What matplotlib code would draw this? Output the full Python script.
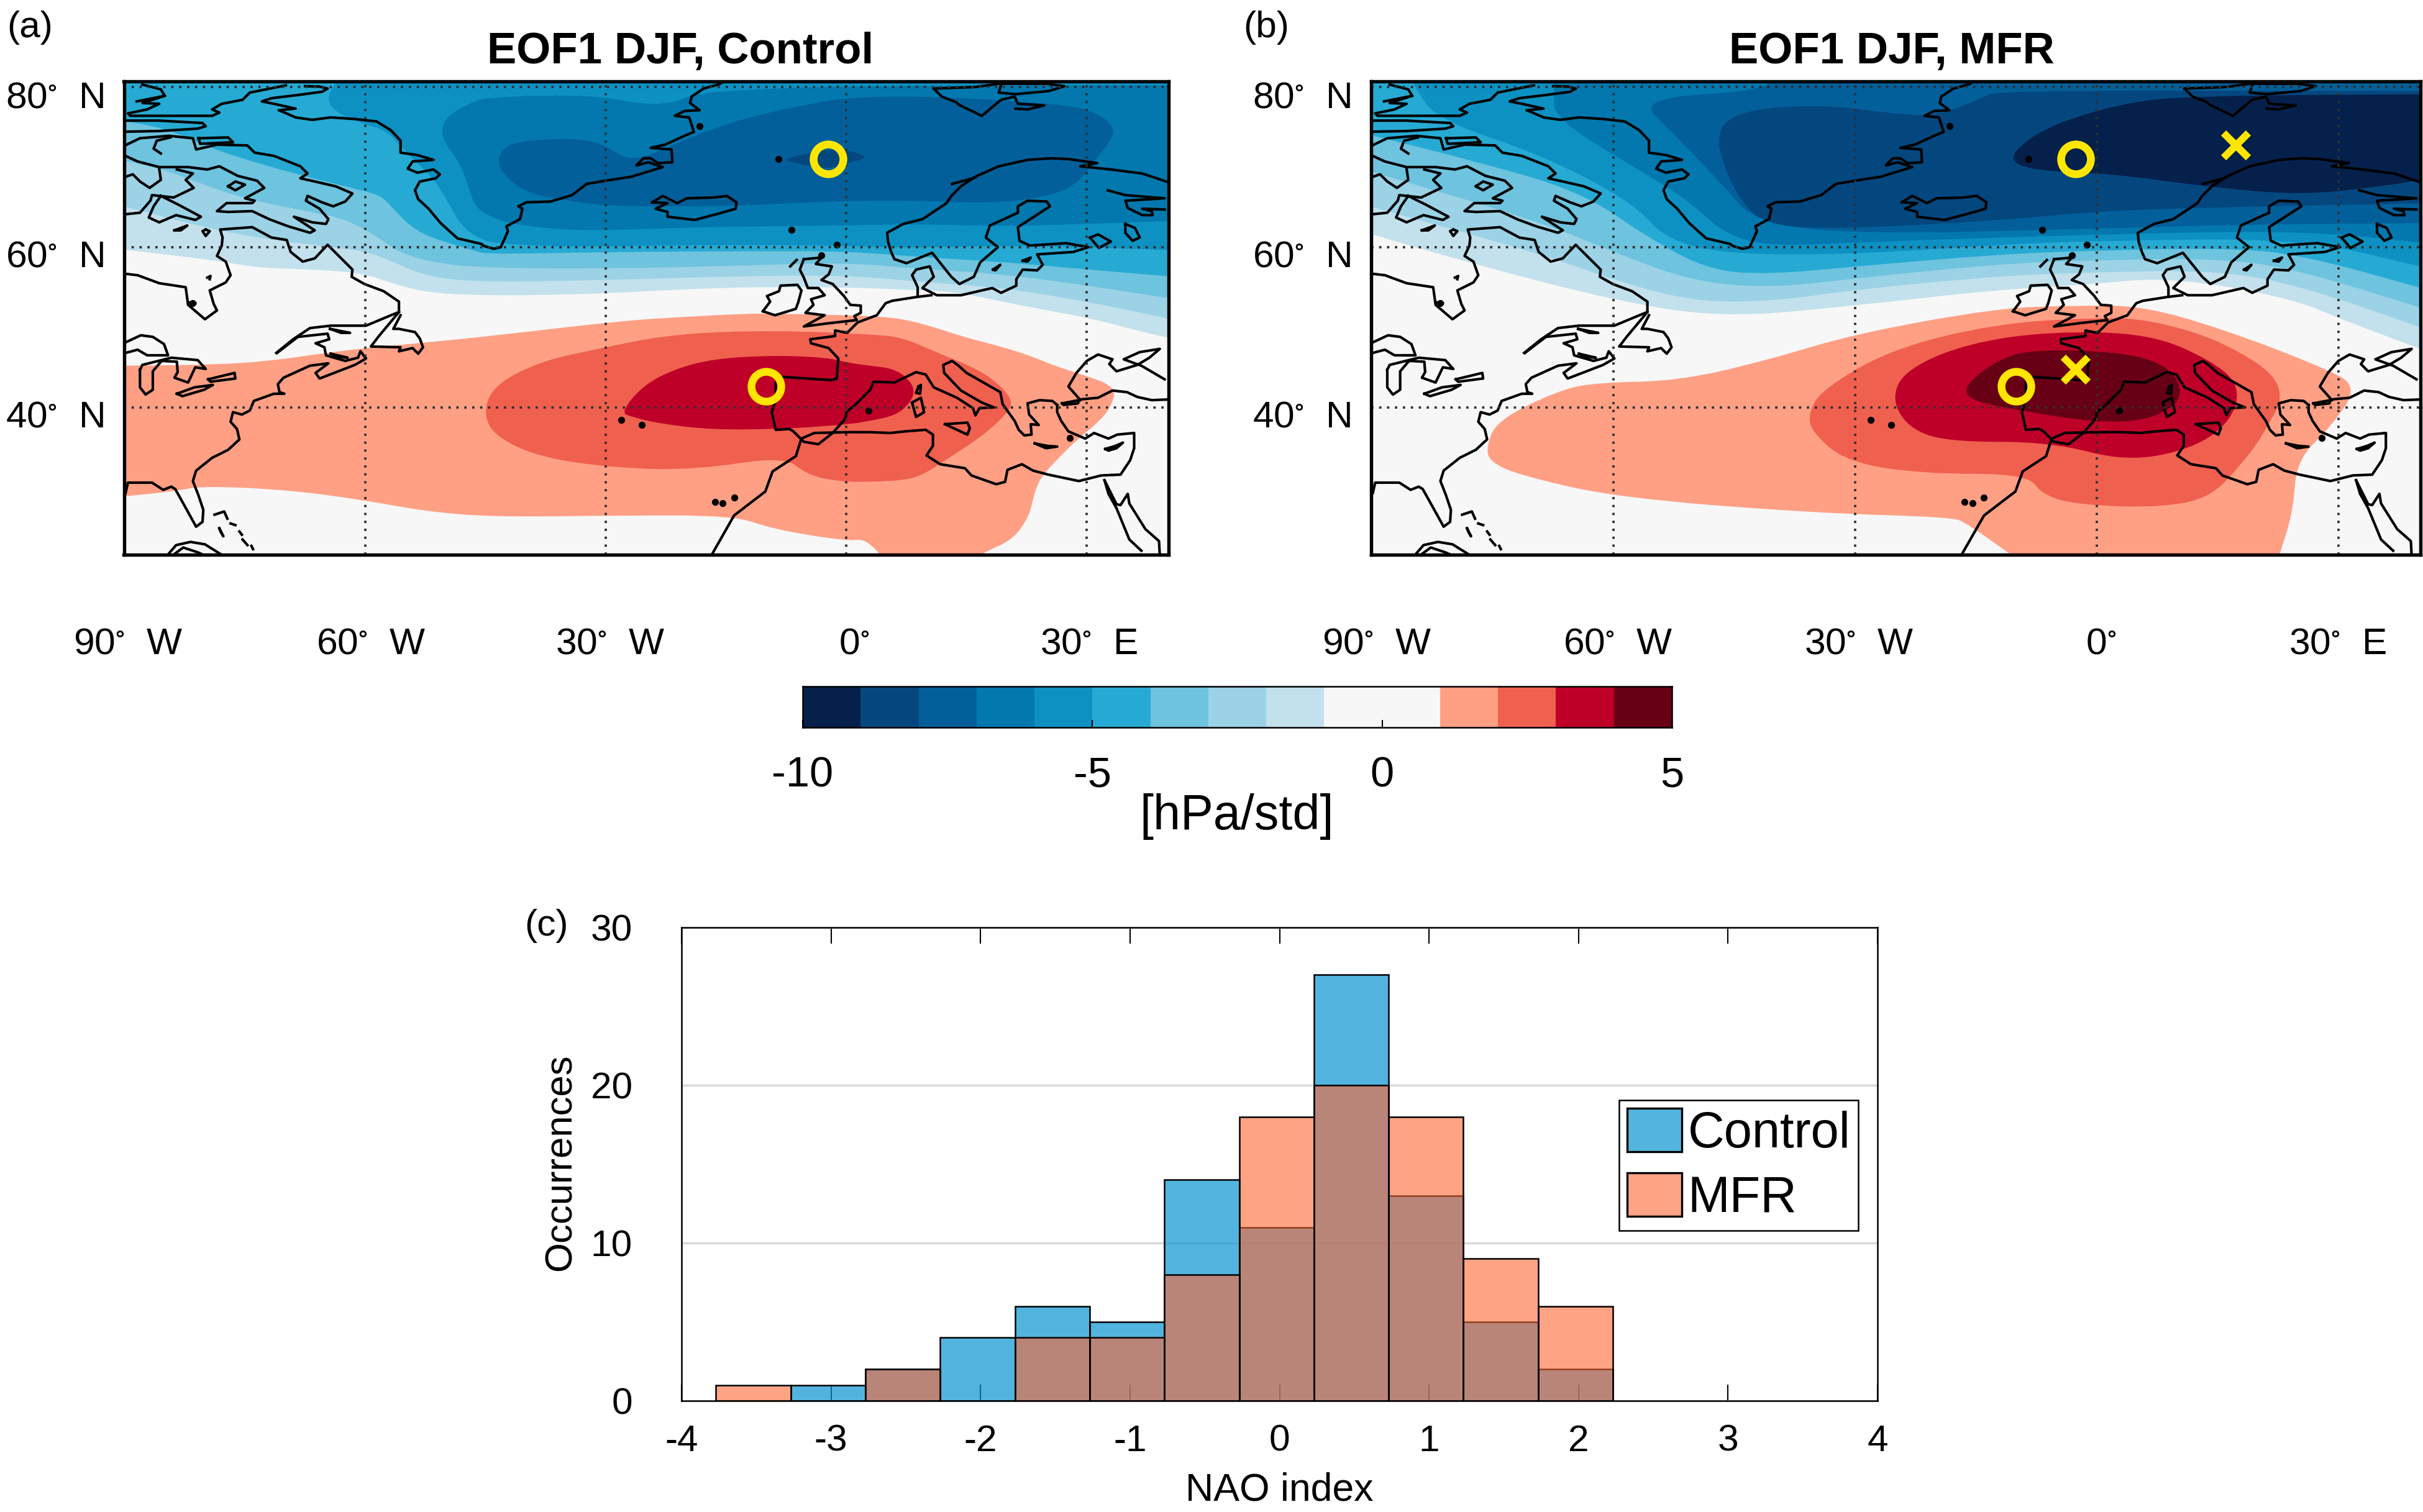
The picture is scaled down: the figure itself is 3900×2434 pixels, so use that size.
import matplotlib
matplotlib.use('Agg')
import matplotlib.pyplot as plt
from matplotlib.path import Path
from matplotlib.patches import PathPatch, Patch

plt.rcParams['font.family'] = ['Liberation Sans', 'DejaVu Sans']
plt.rcParams['mathtext.default'] = 'regular'
plt.rcParams['axes.unicode_minus'] = False

# colour bar
cbar_edges = [-10, -9, -8, -7, -6, -5, -4, -3, -2, -1, 1, 2, 3, 4, 5]
cbar_colors = ['#05204b', '#04477f', '#035f9a', '#0278ae', '#0d91c3', '#26aad4', '#6ec3de',
               '#9bd2e6', '#c3e1ec', '#f7f7f7', '#ffa085', '#f0604f', '#be0028', '#670014']
cbar_ticks = [-10, -5, 0, 5]

# histogram
nao_left = [-3.77, -3.27, -2.77, -2.27, -1.77, -1.27, -0.77, -0.27, 0.23, 0.73, 1.23, 1.73]
control_counts = [0, 1, 2, 4, 6, 5, 14, 11, 27, 13, 5, 2]
mfr_counts = [1, 0, 2, 0, 4, 4, 8, 18, 20, 18, 9, 6]

# map lines and labels
lon_ticks = [-90, -60, -30, 0, 30]
lat_ticks = [40, 60, 80]

# markers (lon, lat)
circles_a = [(-2.3, 71), (-10, 42.6)]
circles_b = [(-2.6, 71), (-10, 42.6)]
crosses_b = [(17.3, 72.7), (-2.6, 44.7)]

# contour fronts, panel a, hPa/std
a_m1 = [(-91, 59.8), (-85, 59.1), (-78.5, 58.3), (-73.2, 57.4), (-65.7, 57.2), (-60, 56.7), (-55.3, 55), (-50.9, 54.2),
        (-45.2, 54), (-39.3, 54), (-30.3, 54.2), (-21.4, 54.7), (-12.5, 55), (-9.5, 55), (0, 55), (7.1, 54.7),
        (13.1, 54.5), (19, 53.3), (25, 52.1), (30.2, 51.2), (36.6, 49.5), (41, 48.5)]
a_m2 = [(-91, 65.3), (-87.1, 64.3), (-80.6, 62.6), (-73.2, 61.1), (-64.3, 60), (-60, 59.5), (-56.8, 58.3), (-52.4, 56.3),
        (-45.2, 55.6), (-30, 55.9), (-12.5, 56.4), (0, 56.5), (10.1, 55.6), (19, 55), (30.2, 53.2), (41, 50.9)]
a_m3 = [(-91, 71), (-85.1, 69.7), (-81.2, 68.2), (-75.3, 66.1), (-66.3, 64.3), (-62.5, 63.5), (-58.6, 61.4), (-55.9, 59.4),
        (-51.8, 58.1), (-45.2, 57.4), (-30, 57.3), (-12.5, 57.7), (0, 58.1), (10.1, 57.2), (19, 56.7), (30.2, 55.2), (41, 53.5)]
a_m4 = [(-91, 75.9), (-85.1, 74.9), (-79.7, 72.6), (-76.2, 71.3), (-67.8, 68.9), (-60.4, 67.1), (-58, 66.4), (-56.8, 65.1),
        (-53.8, 62), (-49.4, 60.4), (-46.4, 59.6), (-45, 59.1), (-30, 59.4), (-12.5, 59.5), (0, 59.5), (10.1, 58.7),
        (19, 58.2), (30.2, 57.2), (41, 56.3)]
a_m5 = [(-63.5, 80.8), (-64.9, 78.6), (-63.7, 76.8), (-60, 75.3), (-57.4, 74.6), (-55.3, 72.3), (-52.7, 69.7), (-51.2, 68.2),
        (-49.4, 65.1), (-47.9, 62.5), (-45.5, 60.9), (-43.1, 60.4), (-36.3, 60.1), (-30, 60.1), (-15.5, 60.3), (0, 60.2),
        (7.1, 59.9), (19, 60.2), (30.2, 60), (41, 59.6)]
a_m6 = [(-50.6, 74.9), (-49.4, 76.7), (-46.4, 78.2), (-45.2, 78.6), (-37.8, 79), (-30.3, 78.8), (-25.9, 77.9), (-22, 77.9),
        (-18.4, 79.3), (-9.5, 79.8), (0, 80.1), (28, 80.2), (41, 80.2), (41, 63.3), (30.2, 62.9), (19, 62.6), (9.5, 62.9),
        (0, 62.7), (-12.5, 62.6), (-21.4, 62.4), (-30, 62.1), (-36.3, 62.2), (-42.2, 63), (-44.4, 63.8), (-46.4, 65.1),
        (-47.3, 68.2), (-48.5, 71), (-50, 72.8)]
a_m7 = [(-42.4, 72.9), (-37.8, 73.5), (-32.7, 73.5), (-30, 72.7), (-27.4, 70.9), (-24.4, 71.5), (-19.9, 73.6), (-12.5, 76.2),
        (-3.6, 78.1), (0, 78.6), (7.1, 78.9), (19, 78.4), (28, 77.7), (31.5, 76.7), (33.5, 74.9), (33, 73.3), (31, 70.8),
        (29.5, 68.7), (27.1, 66.9), (22, 65.8), (16.1, 65.5), (10, 65.8), (0, 65.8), (-6.5, 65.5), (-15.5, 65.1), (-24.4, 65.1),
        (-30.3, 65.2), (-34.8, 65.8), (-39.3, 66.6), (-42.2, 68.4), (-43.7, 70.7)]
a_m8 = [(-8, 71), (-2.4, 72.2), (0, 72.2), (3, 71.2), (0, 70.5), (-2.4, 69.7), (-6.5, 70.5)]
a_p1 = [(-91, 45.2), (-79.1, 45.3), (-71.7, 45.8), (-65.7, 46.7), (-60, 47.4), (-52.4, 48.1), (-44.4, 48.9), (-28.1, 50.8),
        (-20.3, 51.3), (-12.6, 51.7), (-8.7, 51.7), (0, 51.5), (2.9, 51.4), (6.8, 51.1), (10.7, 50.1), (14.6, 48.8),
        (18.5, 47.8), (22.3, 46.7), (26.2, 45.1), (28.8, 44.3), (33.7, 42.6), (33, 40), (31.4, 38.1), (28.8, 36), (26.2, 33.4),
        (24.1, 31.1), (23.3, 28.7), (22.8, 26.4), (20.8, 23.5), (17.4, 22), (15.8, 21), (4.8, 21), (2.4, 23.6), (0, 23.3),
        (-9.2, 24.8), (-14, 26.5), (-28.4, 26.5), (-43.9, 26.3), (-52.4, 27), (-60, 28.4), (-69.6, 29.7), (-80.3, 30.2),
        (-83.9, 29.5), (-91, 28.8)]
a_p2 = [(-28.1, 47.9), (-22.9, 48.9), (-15.2, 49.5), (-4.8, 49.5), (0.4, 49.2), (2.9, 49.1), (6.8, 48.8), (10.7, 47.1),
        (16.6, 44.7), (19.5, 42.5), (20.8, 40.6), (20, 39.2), (17.1, 36.5), (12.2, 33.3), (9.6, 31.6), (7.3, 30.9), (2.9, 30.7),
        (-0.5, 30.7), (-4.8, 31.5), (-7.7, 33.9), (-18.8, 32.2), (-28.4, 32.4), (-38.1, 33.7), (-43.9, 36.4), (-45.3, 39.4),
        (-43.9, 42.8), (-38.1, 45.8), (-30, 47.5)]
a_p3 = [(-28.1, 39.4), (-25.5, 42.6), (-21.7, 44.7), (-16.5, 46.1), (-8.7, 46.5), (-2.2, 46.2), (0, 45.6), (2.9, 45.2),
        (5.5, 44.9), (7.3, 44), (8.6, 42.3), (8, 40.6), (6.2, 39), (2.9, 38.3), (0.4, 37.9), (-4.8, 37.5), (-8.7, 37.3),
        (-16.5, 37.2), (-22.9, 37.9), (-26.8, 38.8)]

# contour fronts, panel b
b_m1 = [(-91, 61.9), (-78.2, 58.1), (-59.4, 53.2), (-46.2, 51.2), (-30, 52.7), (-12.3, 54.7), (0, 55.4), (6.5, 56.1),
        (15, 55.4), (25.3, 53.2), (29.8, 51.2), (41, 47)]
b_m2 = [(-91, 65.3), (-68.8, 59.1), (-59.4, 55.7), (-50, 53.2), (-40.5, 53.2), (-30, 54.7), (-12.3, 56.4), (0, 56.9),
        (15, 57.1), (25.3, 55.2), (41, 49.7)]
b_m3 = [(-91, 69.7), (-68.8, 63.1), (-59.4, 59.1), (-50, 55.7), (-40.5, 54.9), (-30, 56.1), (-12.3, 57.9), (0, 58.4),
        (15.9, 58.6), (25.3, 57.1), (41, 52.2)]
b_m4 = [(-91, 74.2), (-78.2, 71), (-64.1, 67), (-55.6, 61.1), (-48.1, 57.1), (-40.5, 56.6), (-30, 57.6), (-12.3, 59.1),
        (0, 59.6), (15.9, 59.9), (25.3, 59.1), (41, 54.7)]
b_m5 = [(-84.8, 81), (-84.8, 80.1), (-81.9, 75.9), (-68.8, 71.5), (-57.5, 65.5), (-53.7, 61.1), (-46.2, 59.1), (-30, 59.1),
        (-12.3, 60.3), (0, 60.8), (25.3, 61.1), (41, 57.4)]
b_m6 = [(-67.4, 81), (-67.4, 79.6), (-67.4, 76.1), (-57.5, 70), (-50.9, 66), (-46.2, 61.6), (-40.5, 60.1), (-30, 60.6),
        (0, 61.6), (25.3, 62.1), (41, 60.5)]
b_m7 = [(-57, 78.6), (-52.8, 74.4), (-46.2, 67.5), (-42.4, 63.1), (-30, 61.6), (0, 62.3), (15.9, 62.8), (41, 63), (41, 82),
        (-40.5, 82), (-40.5, 79.6)]
b_m8 = [(-47.6, 73.4), (-45.2, 76.9), (-34.9, 77.9), (-24.6, 76.6), (-19.8, 76.4), (-14.3, 78.6), (-12.3, 79.6), (41, 79.5),
        (41, 65.5), (15.9, 65), (0, 64.5), (-12.3, 63.3), (-31.1, 62.3), (-40.5, 62.6), (-44.3, 65.5)]
b_m9 = [(-11.4, 71), (-6.7, 74.9), (2.7, 77.9), (11.2, 78.9), (41, 79.1), (41, 68.5), (34.7, 67.5), (25.3, 66.5), (14, 67.5),
        (1.8, 69.2), (-7.6, 69.5)]
b_p1 = [(-75.8, 35.2), (-74.4, 38.4), (-66.9, 42.1), (-62.2, 43.1), (-51.8, 43.3), (-40.5, 46), (-30, 49.2), (-12.3, 52.4),
        (-2.9, 52.7), (5.6, 52.7), (15.9, 49.7), (28.1, 45), (32.5, 42.6), (29.1, 37.6), (24.8, 33.4), (24.4, 27), (22.5, 21),
        (-9.8, 21), (-16.1, 25.5), (-18, 26.3), (-34.9, 26.8), (-59.4, 28.7), (-71.6, 31.5), (-75.4, 33.2)]
b_p2 = [(-35.8, 39.4), (-34, 42.3), (-25.5, 47.3), (-12.3, 50.5), (0, 51.2), (6.5, 51), (15.9, 48.2), (23.9, 42.8), (20.6, 36.4),
        (17.8, 32.7), (14, 28.7), (7.9, 27.5), (-2, 27.8), (-6.7, 29), (-8.6, 31.7), (-21.7, 31.7), (-31.1, 33.2), (-35.4, 36.9)]
b_p3 = [(-25.5, 41.3), (-23.6, 44.8), (-16.1, 48), (-5.7, 49.5), (6.5, 49.2), (14, 46), (17.8, 42.8), (16.8, 38.4), (12.1, 34.9),
        (3.7, 33.2), (-5.7, 35.7), (-18.9, 35.7), (-23.6, 37.6)]
b_p4 = [(-16.6, 42.6), (-12.3, 46), (-7.6, 47.3), (4.6, 46.8), (9.8, 44.5), (10.7, 40.8), (6.5, 38.4), (-0.1, 38.1), (-9.5, 39.6),
        (-15.6, 40.8)]

# coastlines (lon, lat)
greenland = [(-67.5, 80.1), (-65.7, 80.05), (-64.7, 79.8), (-65.4, 79.4), (-68.4, 79), (-71.7, 78.6), (-72.9, 78.2), (-71.4, 77.9),
             (-68.7, 77.3), (-70.8, 77.1), (-69.6, 76.6), (-68.7, 76.2), (-66.6, 75.9), (-64.3, 76.2), (-61.3, 76), (-58.6, 75.7),
             (-56.8, 74.6), (-55.6, 73.3), (-55.6, 71.8), (-53.5, 71.5), (-51.5, 70.9), (-54.1, 70.7), (-54.7, 69.8), (-53.5, 69.3),
             (-51.5, 69.7), (-50.7, 69.1), (-51.2, 68.6), (-53.2, 68.2), (-53.8, 67.1), (-53.4, 66), (-52.1, 64.8), (-50.6, 63),
             (-48.5, 61.1), (-45.5, 60.4), (-45.2, 60.15), (-44, 59.8), (-43.1, 60), (-42.2, 62), (-42.4, 62.6), (-40.7, 63.5),
             (-40.4, 64.8), (-40.9, 65.1), (-39.9, 65.6), (-36.9, 65.7), (-34.2, 66.5), (-32.4, 67.9), (-30, 68.3), (-26.8, 68.8),
             (-22.9, 70), (-24.7, 70.6), (-26.2, 70.2), (-25.3, 71.1), (-24.4, 71.1), (-23.5, 70.5), (-21.7, 70.6), (-21.8, 72.2),
             (-24.4, 72.4), (-22.6, 72.8), (-20.2, 73.9), (-19, 74.4), (-19.6, 76.2), (-21.4, 76.4), (-20.2, 77), (-18.3, 77.1),
             (-19.5, 78), (-19.3, 78.8), (-17.8, 79.8), (-16, 80.3), (-15, 80.8)]
ellesmere = [(-69.9, 80.2), (-74.4, 79.3), (-75.3, 78.4), (-77.9, 77.9), (-79.1, 77.2), (-78.2, 76.8), (-79.1, 76.4), (-81.5, 76.4),
             (-84.8, 76.4), (-89.3, 76.4), (-89.6, 76.7), (-87.2, 77.2), (-85.7, 77.9), (-87.8, 78), (-85, 78.9), (-88.5, 78.2)]
ellesmere_top = [(-87.8, 80.3), (-85.5, 79.7), (-85, 78.9)]
devon = [(-91, 75.8), (-85.7, 75.8), (-80.3, 75.5), (-79.9, 75.1), (-80.9, 74.8), (-85.7, 74.5), (-91, 74.4)]
baffin = [(-91, 72.2), (-88.1, 73.6), (-84.5, 73.9), (-81.5, 73.6), (-81.1, 72.2), (-78.5, 72.8), (-74.7, 72.7), (-73.8, 71.8),
          (-71.4, 71.4), (-68.1, 70.1), (-67.2, 69.2), (-68.1, 68.6), (-66.3, 68.2), (-63.7, 67.6), (-61.6, 66.7), (-62.5, 65.7),
          (-64, 65.1), (-65.4, 65.6), (-67.2, 66.4), (-67.4, 65.8), (-65.7, 64.8), (-64.6, 63.5), (-64.9, 62.9), (-66.6, 63.1),
          (-68.9, 63.8), (-66.3, 62.1), (-66.9, 61.8), (-69.6, 62.6), (-72, 63.5), (-74.1, 64.5), (-77.1, 64.4), (-78.5, 64.5),
          (-77.3, 65.5), (-74.1, 65.5), (-73.8, 65.8), (-75, 66.1), (-72.6, 67.4), (-73.5, 68.3), (-75.9, 68.9), (-78.2, 70.1),
          (-79.7, 69.7), (-82.1, 70), (-85.7, 70), (-88.4, 70.7), (-91, 71.9)]
baffin_inlet = [(-85.5, 71.7), (-86.4, 72.3), (-86, 73.3), (-84.3, 73.7)]
bylot = [(-80.8, 73.6), (-77.1, 73.7), (-76.5, 73.1), (-80.6, 72.9), (-80.8, 73.6)]
foxe_island = [(-77.1, 67.6), (-76.2, 68.2), (-75, 67.8), (-76.2, 67.1), (-77.1, 67.6)]
melville = [(-85.7, 69.8), (-85.5, 68.4), (-86.9, 67.4), (-88.1, 68.2), (-89, 69.1), (-91, 68.4)]
hudson_nw = [(-83.5, 69.7), (-81.5, 69.2), (-82.4, 68.4), (-81.4, 67.4), (-83.9, 66.2), (-86.6, 66.5), (-86.8, 65.8), (-88.1, 64.3),
             (-91, 64)]
southampton = [(-85.5, 66.4), (-86.4, 65.1), (-87, 63.7), (-85.7, 63.1), (-83.6, 64), (-81.2, 63.4), (-80.5, 63.8), (-83.3, 65.3),
               (-85.5, 66.4)]
coats = [(-83.8, 62.1), (-82.2, 62.7), (-83, 62.1), (-83.8, 62.1)]
mansel = [(-79.9, 62.2), (-79.4, 62), (-79.9, 61.4), (-80.3, 62), (-79.9, 62.2)]
belcher = [(-79.7, 56.2), (-79.3, 56.4), (-79.4, 56)]
akimiski = [(-81.9, 53.1), (-81.2, 53)]
labrador = [(-91, 56.8), (-88.4, 56.5), (-85.7, 55.5), (-82.4, 55), (-82.1, 52.8), (-80, 51), (-78.5, 52.1), (-78.9, 52.9), (-79.4, 54.6),
            (-77.4, 55.6), (-76.8, 56.5), (-77.4, 58.2), (-78.5, 58.9), (-77.9, 60.2), (-77.8, 61.2), (-78.1, 62.2), (-74.1, 62.5),
            (-71.7, 61.2), (-69.8, 60.9), (-69.3, 59.4), (-67.8, 58.2), (-66.3, 58.6), (-64.7, 60.3), (-61.6, 57.2), (-61.7, 56.3),
            (-60.1, 55.4), (-57.7, 54.5), (-55.8, 53.2), (-55.8, 51.9), (-56.8, 51.5), (-59.9, 50.2), (-64.3, 50.2), (-66.9, 49.9),
            (-69, 48.5), (-71.1, 46.8)]
superior = [(-91, 47.6), (-88, 49), (-86.5, 48.8), (-85.1, 47.9), (-84.6, 46.5), (-87.2, 46.5), (-88.4, 47.2), (-91, 46.5)]
michigan_huron = [(-88.1, 44.7), (-87.8, 45.3), (-85.4, 45.9), (-84.2, 46.2), (-80.9, 45.9), (-79.9, 44.8), (-81.2, 45), (-82.1, 43.1),
                  (-83.8, 43.7), (-83.4, 44.4), (-83.5, 45.7), (-85.4, 45.8), (-86.5, 44.5), (-86.5, 42.2), (-87.4, 41.6), (-88.1, 42.5),
                  (-88.1, 44.7)]
erie = [(-83.5, 41.7), (-81.3, 42.5), (-79, 42.8), (-80.1, 42.2), (-82.8, 41.4), (-83.5, 41.7)]
ontario = [(-79.6, 43.5), (-76.3, 44.3), (-76.2, 43.6), (-79.3, 43.2), (-79.6, 43.5)]
us_coast = [(-71, 46.8), (-68.4, 48.8), (-64.7, 49.2), (-64.5, 48.5), (-66.2, 48), (-65.1, 47.5), (-64.9, 46.5), (-62.5, 45.8), (-60.9, 46.2),
            (-60.6, 47), (-59.9, 46.1), (-61.3, 45.3), (-65.7, 43.6), (-66.2, 44.3), (-64.6, 45.5), (-66.9, 45.2), (-70.2, 43.7),
            (-70.9, 42.9), (-70.7, 41.9), (-70.1, 41.7), (-71.4, 41.7), (-73.9, 40.8), (-74.4, 39.6), (-75.4, 39.1), (-76.5, 39.4),
            (-76.8, 38.2), (-76, 37.3), (-75.7, 36), (-77.1, 34.7), (-79.1, 33.7), (-81.1, 32.1), (-81.5, 30.8), (-80.8, 29), (-80.2, 27.2),
            (-80.3, 25.7), (-81.1, 25.1), (-82.7, 28), (-83.7, 29.8), (-84.2, 30.1), (-85.2, 29.7), (-86.6, 30.6), (-89.6, 30.6), (-89.9, 29.3)]
pei = [(-64.3, 46.7), (-62.2, 46.2), (-63.5, 46.3), (-64.3, 46.7)]
anticosti = [(-64.4, 49.8), (-61.9, 49.3), (-63, 49.3), (-64.4, 49.8)]
newfoundland = [(-55.8, 51.9), (-58.3, 48.9), (-59.3, 47.6), (-55.6, 47.5), (-55.8, 47), (-54.1, 47.4), (-53.4, 46.7), (-52.8, 47.5),
                (-53.2, 48.6), (-53.8, 49.4), (-55.8, 49.8), (-56.5, 49.8), (-55.6, 51.5)]
bahamas_1 = [(-78.8, 26.6), (-77.6, 27), (-77.2, 26.1)]
bahamas_2 = [(-76.8, 25.5), (-76.2, 25.3)]
bahamas_3 = [(-75.7, 24.5), (-75.4, 24.1)]
bahamas_4 = [(-75.3, 23.5), (-74.7, 22.8)]
bahamas_5 = [(-74.2, 22.7), (-74, 22.3)]
andros = [(-78.2, 24.9), (-77.7, 23.9), (-78, 24.4), (-78.2, 24.9)]
cuba = [(-84.8, 21.4), (-83.6, 22.8), (-81.8, 23.2), (-80, 22.9), (-77.6, 21.4)]
cuba_south = [(-84.2, 21.4), (-82.7, 22.5), (-80.9, 21.9), (-80, 21.5)]
iceland = [(-24.2, 65.6), (-22.9, 66.4), (-21.7, 65.8), (-21.1, 65.5), (-19.9, 66.1), (-16.6, 66.2), (-14.9, 66.4), (-13.7, 65.6), (-13.8, 64.8),
           (-15.9, 64.2), (-18.9, 63.4), (-22.3, 63.8), (-22.3, 64.4), (-23.8, 64.8), (-22.3, 65.5), (-24.2, 65.6)]
ireland = [(-10.4, 52), (-9.5, 53.2), (-9.9, 53.9), (-8.4, 54.5), (-8.2, 55.2), (-6.1, 55.3), (-5.6, 54.6), (-6, 53.1), (-6.3, 52.3), (-8.9, 51.5),
           (-10.4, 52)]
britain = [(-5.3, 58.5), (-3.1, 58.7), (-3.8, 57.9), (-1.8, 57.6), (-2.2, 56.6), (-3.1, 55.9), (-1.7, 55.4), (-0.3, 53.9), (0.5, 52.8), (1.8, 52.7),
           (1.8, 51.8), (1, 51.4), (1.3, 50.9), (-2.2, 50.5), (-5.3, 50.1), (-2.7, 51.5), (-5.1, 51.8), (-4.1, 52.8), (-4.4, 53.5), (-2.7, 54),
           (-3.5, 54.9), (-4.8, 54.9), (-5.3, 56.2), (-5.8, 57.2), (-5.3, 58.5)]
lewis = [(-7, 57.6), (-6.2, 58.4)]
spain_north_sea = [(10.6, 54), (8.9, 53.8), (5.7, 53.3), (4.9, 53), (3.8, 51.5), (1.4, 50.6), (0.1, 49.3), (-1.4, 49.6), (-1.4, 48.9), (-4.5, 48.5),
                   (-4.4, 48), (-2.2, 47.4), (-1, 46.1), (-1.2, 43.6), (-1.8, 43.4), (-7.9, 43.8), (-8.8, 43.1), (-8.8, 40.9), (-9.3, 39.4),
                   (-8.8, 37.2), (-7.1, 37.3), (-6.6, 37), (-5.3, 35.7), (-3.5, 35.4), (-1.7, 36.8), (-0.1, 38.6), (0, 39.4), (1.2, 40.4),
                   (3, 42.2), (3.4, 43.2), (6, 43.1), (8.7, 44.4), (9.9, 44.1), (10.9, 42.5), (13.8, 41.2), (15.8, 39.9), (16.1, 39), (16.6, 39.9),
                   (18.4, 40), (16.9, 40.6), (14.3, 42.1), (12.2, 44.3), (12.1, 45.3), (13.2, 45.8), (14, 45.2), (15, 44.3), (19.2, 41.9), (19.5, 40.4),
                   (21, 38.3), (21.5, 37.2), (22.2, 36.5), (23.1, 36.6), (23, 37.9), (24, 37.8), (22.8, 39.1), (22.6, 40.5), (24.1, 40.9), (25.7, 40.8),
                   (26.3, 40.3)]
africa = [(-16.9, 21.4), (-14, 26.5), (-10.1, 29.5), (-9.2, 32), (-6.3, 33.9), (-5.6, 36.1), (-4, 36.8), (0.1, 36.9), (3, 36.9), (5.5, 36.8), (7.3, 37),
          (9.9, 37.2), (10.8, 36.6), (10.8, 35.2), (10, 34), (11.7, 32.9), (14.8, 32.4), (15.6, 31.5), (18.7, 30.4), (19.8, 30.7), (20.1, 32.2),
          (21.9, 32.9), (23.3, 32.1), (25.2, 31.6), (29, 30.8), (31.8, 31.5), (34.2, 31.6), (35.4, 33.4), (35.9, 34.9), (35.9, 36.8), (33.8, 36.6),
          (32.7, 36.1), (30.9, 36.8), (29.8, 36.1), (27.7, 37), (26.8, 38.3), (26.3, 39.4), (26.3, 40.3)]
marmara = [(26.9, 40.5), (29, 40.9), (28.9, 40.5), (27.1, 40.3), (26.9, 40.5)]
black_sea_n = [(29.2, 40.9), (27.7, 42.6), (28.7, 44.3), (30, 45.8), (31.4, 46.6), (33.2, 46), (32.8, 45.4), (33.7, 44.5), (36.3, 45.3), (37.8, 46.2),
               (39.1, 47.3), (36.6, 46.9), (34.6, 46), (36.8, 45.2), (39.7, 43.5)]
turkey_n = [(29.3, 41), (31.4, 41.2), (33.2, 42.1), (35, 41.9), (36.3, 41.3), (38.1, 40.9), (40.5, 41)]
cyprus = [(32.3, 34.8), (33.6, 35.2), (34.5, 35.6), (33.7, 34.9), (32.7, 34.6), (32.3, 34.8)]
crete = [(23.5, 35.5), (25, 35.2), (26.3, 35.1), (24.9, 34.9), (23.5, 35.5)]
sicily = [(12.3, 37.9), (15.1, 38.1), (15.4, 37.4), (15.1, 36.6), (13.8, 37.2), (12.3, 37.9)]
sardinia = [(8.2, 40.6), (9.3, 41.2), (9.7, 39.4), (8.7, 38.8), (8.2, 40.6)]
corsica = [(9, 42.6), (9.3, 42.8), (9.2, 41.7), (8.7, 41.8), (9, 42.6)]
nile_west = [(32.2, 30.9), (32.7, 29.2), (33.7, 27.4), (35.3, 23.5), (36.8, 22.1)]
sinai_east = [(32.2, 30.9), (33.7, 27.9), (34.2, 27.8), (35.1, 29.2), (35.3, 28), (37.3, 24.8), (39, 23.3), (39.1, 21.4)]
scandinavia = [(40.5, 68), (36.9, 69.2), (33, 69.7), (29.2, 70.1), (31.3, 70.5), (27.7, 71), (25.6, 71.1), (22.6, 70.9), (19, 70.1), (16.1, 68.8), (14.3, 67.6),
               (13.1, 66.4), (12.5, 65.5), (9.5, 63.5), (7.1, 62.9), (5.1, 61.8), (5.2, 60.7), (5.6, 59.4), (6, 58.5), (7.5, 58), (10.7, 59.3), (13.1, 56.3),
               (14.1, 55.4), (15.9, 56.3), (16.7, 58.1), (18.9, 60), (17.4, 61.2), (17.9, 62.7), (21.4, 64.3), (21.4, 65.1), (22.6, 65.8), (25, 65.7),
               (25.4, 65.1), (21.4, 62.5), (21.6, 60.8), (22.9, 60.2), (27.4, 60.5), (30.2, 60), (28.3, 59.4), (23.8, 59.1), (24.5, 57.8), (23.8, 57.1),
               (22, 57.2), (21.2, 56), (21.2, 55.2), (19.3, 54.3), (18.2, 54.9), (14.3, 54), (11.3, 54), (9.5, 54.9), (10.9, 56.3), (10.4, 57.6), (8.7, 57.2),
               (8.2, 56.5), (8.9, 55), (8.9, 53.8)]
lofoten = [(13.2, 67.9), (16.1, 68.7)]
white_sea = [(32.6, 67.1), (34.8, 66.5), (39.7, 66.1), (34.8, 65.8), (35.1, 64.9), (36.9, 64), (38.2, 64), (38.1, 64.5), (36.9, 64.8), (39.7, 64.7)]
ladoga = [(30.4, 61.2), (31.4, 61.6), (33, 60.7), (31.5, 59.9), (30.4, 61.2)]
onega = [(34.8, 62.9), (36, 62.4), (36.6, 61.2), (35.7, 60.8), (34.8, 61.8), (34.8, 62.9)]
gotland = [(18.3, 57.2), (19.2, 57.8), (18.6, 57.1), (18.3, 57.2)]
saaremaa = [(22, 58.3), (23, 58.7), (22.6, 58.2), (22, 58.3)]
svalbard = [(10.9, 79.8), (11.9, 78.8), (13.7, 78.1), (14, 77.8), (16.9, 76.4), (19.3, 78.4), (21, 78.8), (21.4, 77.9), (24.7, 77.7), (22.6, 77.2), (21.1, 77.3)]
svalbard_top = [(10.9, 79.8), (16.1, 80), (19, 80.4), (25, 80.4), (27.2, 80.1), (25.3, 79.5), (21.1, 79.1), (19, 79.3), (19.3, 80.2)]
specks = [(-18.3, 75.1), (-8.5, 71), (-6.8, 62.2), (-1.2, 60.3), (-3.1, 59), (-25.5, 37.8), (-28.1, 38.4), (-16.4, 28.2), (-15.4, 28), (-14, 28.7),
          (2.8, 39.6), (27.9, 36.2), (-81.5, 53)]

coast_lines = [greenland, ellesmere, ellesmere_top, devon, baffin, baffin_inlet, bylot, foxe_island, melville, hudson_nw, southampton, coats, mansel,
               belcher, akimiski, labrador, superior, michigan_huron, erie, ontario, us_coast, pei, anticosti, newfoundland, bahamas_1, bahamas_2,
               bahamas_3, bahamas_4, bahamas_5, andros, cuba, cuba_south, iceland, ireland, britain, lewis, spain_north_sea, africa, marmara,
               black_sea_n, turkey_n, cyprus, crete, sicily, sardinia, corsica, nile_west, sinai_east, scandinavia, lofoten, white_sea, ladoga,
               onega, gotland, saaremaa, svalbard, svalbard_top]

W, H = 3900, 2434
LON_MIN, LON_MAX = -90.1, 40.2
LAT_MIN, LAT_MAX = 21.6, 80.7


def box(left, top, right, bottom):
    return [left / W, 1 - bottom / H, (right - left) / W, (bottom - top) / H]


def put(x, y, s, **kw):
    kw.setdefault('ha', 'center')
    kw.setdefault('va', 'center')
    fig.text(x / W, 1 - y / H, s, **kw)


def off_map(p):
    return p[0] < LON_MIN or p[0] > LON_MAX or p[1] < LAT_MIN or p[1] > LAT_MAX


def band(ax, pts, color, open_top=False):
    # quadratic curves through the read points, keeps the contours soft
    pts = list(pts)
    if open_top:
        pts = pts + [(pts[-1][0], 82), (pts[0][0], 82)]
    n = len(pts)
    mids = [((pts[i][0] + pts[(i + 1) % n][0]) / 2, (pts[i][1] + pts[(i + 1) % n][1]) / 2) for i in range(n)]
    verts = [mids[-1]]
    codes = [Path.MOVETO]
    for i in range(n):
        verts += [pts[i], mids[i]]
        if off_map(pts[i]):
            codes += [Path.LINETO, Path.LINETO]
        else:
            codes += [Path.CURVE3, Path.CURVE3]
    ax.add_patch(PathPatch(Path(verts, codes), facecolor=color, edgecolor='none', lw=0, zorder=1))


def draw_map(ax, blue_open, blue_closed, reds):
    ax.set_facecolor('#f7f7f7')
    for pts, col in blue_open:
        band(ax, pts, col, open_top=True)
    for pts, col in blue_closed:
        band(ax, pts, col)
    for pts, col in reds:
        band(ax, pts, col)
    for line in coast_lines:
        xs, ys = zip(*line)
        ax.plot(xs, ys, color='k', lw=1.0, solid_joinstyle='round', zorder=3)
    sx, sy = zip(*specks)
    ax.plot(sx, sy, ls='none', marker='o', ms=1.7, color='k', zorder=3)
    for lon in lon_ticks:
        ax.plot([lon, lon], [LAT_MIN, LAT_MAX], color='#303030', lw=0.9, ls=(0, (1, 2.4)), zorder=4)
    for lat in lat_ticks:
        ax.plot([LON_MIN, LON_MAX], [lat, lat], color='#303030', lw=0.9, ls=(0, (1, 2.4)), zorder=4)
    ax.set_xlim(LON_MIN, LON_MAX)
    ax.set_ylim(LAT_MIN, LAT_MAX)
    ax.set_xticks([])
    ax.set_yticks([])
    for s in ax.spines.values():
        s.set_linewidth(1.3)
        s.set_zorder(6)


def lon_label(v):
    if v == 0:
        return '0$^{\\circ}$'
    return f"{abs(v)}$^{{\\circ}}$  {'W' if v < 0 else 'E'}"


fig = plt.figure(figsize=(13, 2434 / 300), dpi=300)

ax_a = fig.add_axes(box(199.5, 131, 1881, 893))
draw_map(ax_a,
         [(a_m1, cbar_colors[8]), (a_m2, cbar_colors[7]), (a_m3, cbar_colors[6]), (a_m4, cbar_colors[5]), (a_m5, cbar_colors[4])],
         [(a_m6, cbar_colors[3]), (a_m7, cbar_colors[2]), (a_m8, cbar_colors[1])],
         [(a_p1, cbar_colors[10]), (a_p2, cbar_colors[11]), (a_p3, cbar_colors[12])])
for lon, lat in circles_a:
    ax_a.plot(lon, lat, marker='o', ms=11.5, mfc='none', mec='#ffe600', mew=3, zorder=5)

ax_b = fig.add_axes(box(2207, 131, 3896, 893))
draw_map(ax_b,
         [(b_m1, cbar_colors[8]), (b_m2, cbar_colors[7]), (b_m3, cbar_colors[6]), (b_m4, cbar_colors[5]), (b_m5, cbar_colors[4]),
          (b_m6, cbar_colors[3])],
         [(b_m7, cbar_colors[2]), (b_m8, cbar_colors[1]), (b_m9, cbar_colors[0])],
         [(b_p1, cbar_colors[10]), (b_p2, cbar_colors[11]), (b_p3, cbar_colors[12]), (b_p4, cbar_colors[13])])
for lon, lat in circles_b:
    ax_b.plot(lon, lat, marker='o', ms=11.5, mfc='none', mec='#ffe600', mew=3, zorder=5)
for lon, lat in crosses_b:
    ax_b.plot(lon, lat, marker='x', ms=9.5, mec='#ffe600', mew=2.8, zorder=5)

put(1095, 84, 'EOF1 DJF, Control', fontsize=17, fontweight='bold')
put(3045, 84, 'EOF1 DJF, MFR', fontsize=17, fontweight='bold')
put(48, 44, '(a)', fontsize=14.5)
put(2038, 44, '(b)', fontsize=14.5)
put(879, 1490, '(c)', fontsize=14.5)

for lat, y in zip(lat_ticks, [672, 414, 158]):
    put(88, y, f'{lat}$^{{\\circ}}$  N', fontsize=14.5)
    put(2095, y, f'{lat}$^{{\\circ}}$  N', fontsize=14.5)
for v, xa, xb in zip(lon_ticks, [206, 597, 982, 1375, 1753], [2216, 2604, 2992, 3382, 3763]):
    put(xa, 1037, lon_label(v), fontsize=14.5)
    put(xb, 1037, lon_label(v), fontsize=14.5)

# colour bar
ax_cb = fig.add_axes(box(1292, 1105, 2691, 1171))
for i, col in enumerate(cbar_colors):
    ax_cb.bar(cbar_edges[i], 1, width=cbar_edges[i + 1] - cbar_edges[i], align='edge', color=col, lw=0)
ax_cb.set_xlim(cbar_edges[0], cbar_edges[-1])
ax_cb.set_ylim(0, 1)
ax_cb.set_yticks([])
ax_cb.set_xticks(cbar_ticks)
ax_cb.set_xticklabels(cbar_ticks, fontsize=16.5)
ax_cb.tick_params(axis='x', direction='in', length=3, width=0.5, pad=11)
for s in ax_cb.spines.values():
    s.set_linewidth(0.6)
put(1991, 1315, '[hPa/std]', fontsize=19)

# histogram
ax_h = fig.add_axes(box(1097, 1493, 3022, 2255))
ax_h.bar(nao_left, control_counts, width=0.5, align='edge', color=(9 / 255, 149 / 255, 208 / 255), alpha=0.7, lw=0)
ax_h.bar(nao_left, control_counts, width=0.5, align='edge', fill=False, edgecolor='k', lw=0.6)
ax_h.bar(nao_left, mfr_counts, width=0.5, align='edge', color=(1, 102 / 255, 52 / 255), alpha=0.6, lw=0)
ax_h.bar(nao_left, mfr_counts, width=0.5, align='edge', fill=False, edgecolor='k', lw=0.6)
ax_h.set_xlim(-4, 4)
ax_h.set_ylim(0, 30)
ax_h.set_xticks(range(-4, 5))
ax_h.set_yticks([0, 10, 20, 30])
ax_h.tick_params(axis='x', direction='in', length=6.3, width=0.5, top=True, labelsize=14.5, pad=9)
ax_h.tick_params(axis='y', length=0, labelsize=14.5, pad=19)
ax_h.grid(axis='y', color='#d8d8d8', lw=0.8)
ax_h.set_axisbelow(True)
for s in ax_h.spines.values():
    s.set_linewidth(0.6)
put(2059, 2399, 'NAO index', fontsize=15)
put(903, 1871, 'Occurrences', fontsize=14.8, rotation=90)
ax_h.legend(handles=[Patch(facecolor='#53b5de', edgecolor='k', lw=0.8, label='Control'),
                     Patch(facecolor='#ffa385', edgecolor='k', lw=0.8, label='MFR')],
            loc='upper left', bbox_to_anchor=((2606 - 1097) / (3022 - 1097), 1 - (1771 - 1493) / (2255 - 1493)),
            borderaxespad=0, fontsize=19.5, handlelength=1.08, handleheight=0.95, labelspacing=0.3, handletextpad=0.12,
            borderpad=0.16, fancybox=False, edgecolor='k', framealpha=1).get_frame().set_linewidth(0.6)

fig.savefig('out.png', dpi=300)
